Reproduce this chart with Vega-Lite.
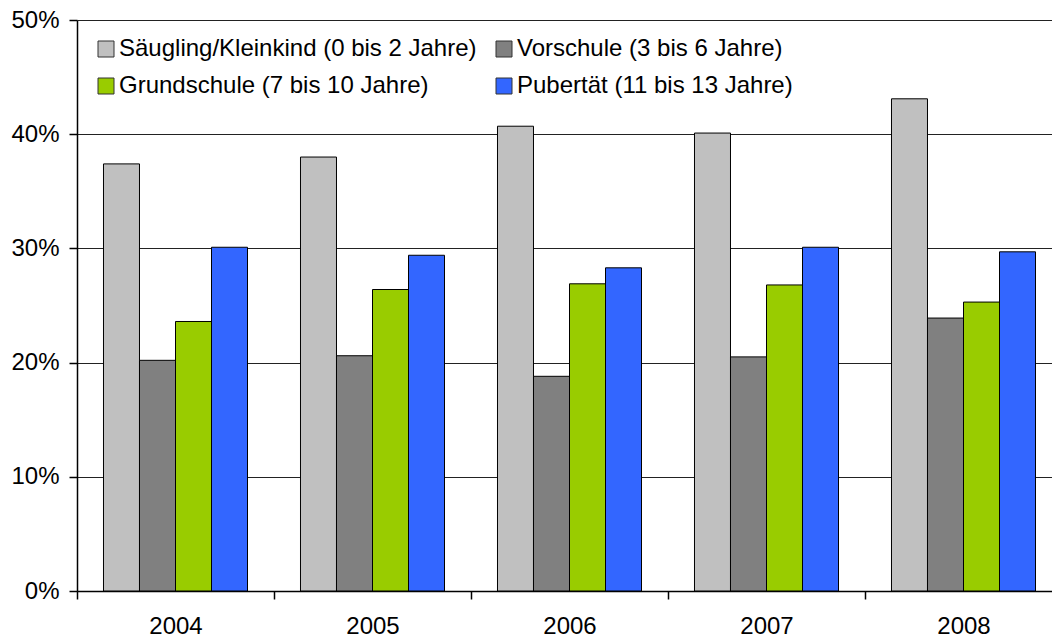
{
  "$schema": "https://vega.github.io/schema/vega-lite/v6.json",
  "width": 975,
  "height": 571,
  "autosize": {"type": "none"},
  "padding": {"left": 77, "top": 20, "right": 0, "bottom": 46},
  "background": "white",
  "config": {
    "view": {"stroke": null},
    "font": "Liberation Sans",
    "axis": {"labelFont": "Liberation Sans", "labelColor": "#000", "labelFontSize": 24}
  },
  "data": {
    "values": [
      {"Jahr": "2004", "Gruppe": "Säugling/Kleinkind (0 bis 2 Jahre)", "Anteil": 0.374},
      {"Jahr": "2004", "Gruppe": "Vorschule (3 bis 6 Jahre)", "Anteil": 0.202},
      {"Jahr": "2004", "Gruppe": "Grundschule (7 bis 10 Jahre)", "Anteil": 0.236},
      {"Jahr": "2004", "Gruppe": "Pubertät (11 bis 13 Jahre)", "Anteil": 0.301},
      {"Jahr": "2005", "Gruppe": "Säugling/Kleinkind (0 bis 2 Jahre)", "Anteil": 0.380},
      {"Jahr": "2005", "Gruppe": "Vorschule (3 bis 6 Jahre)", "Anteil": 0.206},
      {"Jahr": "2005", "Gruppe": "Grundschule (7 bis 10 Jahre)", "Anteil": 0.264},
      {"Jahr": "2005", "Gruppe": "Pubertät (11 bis 13 Jahre)", "Anteil": 0.294},
      {"Jahr": "2006", "Gruppe": "Säugling/Kleinkind (0 bis 2 Jahre)", "Anteil": 0.407},
      {"Jahr": "2006", "Gruppe": "Vorschule (3 bis 6 Jahre)", "Anteil": 0.188},
      {"Jahr": "2006", "Gruppe": "Grundschule (7 bis 10 Jahre)", "Anteil": 0.269},
      {"Jahr": "2006", "Gruppe": "Pubertät (11 bis 13 Jahre)", "Anteil": 0.283},
      {"Jahr": "2007", "Gruppe": "Säugling/Kleinkind (0 bis 2 Jahre)", "Anteil": 0.401},
      {"Jahr": "2007", "Gruppe": "Vorschule (3 bis 6 Jahre)", "Anteil": 0.205},
      {"Jahr": "2007", "Gruppe": "Grundschule (7 bis 10 Jahre)", "Anteil": 0.268},
      {"Jahr": "2007", "Gruppe": "Pubertät (11 bis 13 Jahre)", "Anteil": 0.301},
      {"Jahr": "2008", "Gruppe": "Säugling/Kleinkind (0 bis 2 Jahre)", "Anteil": 0.431},
      {"Jahr": "2008", "Gruppe": "Vorschule (3 bis 6 Jahre)", "Anteil": 0.239},
      {"Jahr": "2008", "Gruppe": "Grundschule (7 bis 10 Jahre)", "Anteil": 0.253},
      {"Jahr": "2008", "Gruppe": "Pubertät (11 bis 13 Jahre)", "Anteil": 0.297}
    ]
  },
  "mark": {"type": "bar", "stroke": "#000", "strokeWidth": 1},
  "encoding": {
    "x": {
      "field": "Jahr",
      "type": "nominal",
      "scale": {"range": [0, 985], "paddingInner": 0.269, "paddingOuter": 0.1345},
      "axis": {
        "title": null,
        "labelAngle": 0,
        "bandPosition": 0,
        "tickOffset": -26.5,
        "labelOffset": 26.5,
        "domainColor": "#000",
        "domainWidth": 1.5,
        "tickColor": "#000",
        "tickSize": 8,
        "tickWidth": 1.5,
        "labelPadding": 15,
        "grid": false
      }
    },
    "xOffset": {
      "field": "Gruppe",
      "type": "nominal",
      "sort": ["Säugling/Kleinkind (0 bis 2 Jahre)", "Vorschule (3 bis 6 Jahre)", "Grundschule (7 bis 10 Jahre)", "Pubertät (11 bis 13 Jahre)"],
      "scale": {"paddingInner": 0, "paddingOuter": 0}
    },
    "y": {
      "field": "Anteil",
      "type": "quantitative",
      "scale": {"domain": [0, 0.5], "nice": false},
      "axis": {
        "title": null,
        "format": ".0%",
        "values": [0, 0.1, 0.2, 0.3, 0.4, 0.5],
        "grid": true,
        "gridColor": "#222",
        "gridOpacity": 1,
        "gridWidth": 1,
        "domainColor": "#000",
        "domainWidth": 1.5,
        "tickColor": "#000",
        "tickSize": 8,
        "tickWidth": 1.5,
        "labelPadding": 10
      }
    },
    "color": {
      "field": "Gruppe",
      "type": "nominal",
      "sort": ["Säugling/Kleinkind (0 bis 2 Jahre)", "Vorschule (3 bis 6 Jahre)", "Grundschule (7 bis 10 Jahre)", "Pubertät (11 bis 13 Jahre)"],
      "scale": {
        "domain": ["Säugling/Kleinkind (0 bis 2 Jahre)", "Vorschule (3 bis 6 Jahre)", "Grundschule (7 bis 10 Jahre)", "Pubertät (11 bis 13 Jahre)"],
        "range": ["#C0C0C0", "#808080", "#99CC00", "#3366FF"]
      },
      "legend": {
        "title": null,
        "orient": "none",
        "legendX": 17,
        "legendY": 17,
        "columns": 2,
        "direction": "horizontal",
        "symbolType": "square",
        "symbolSize": 256,
        "symbolStrokeColor": "#333",
        "symbolStrokeWidth": 1,
        "labelFontSize": 24,
        "labelFont": "Liberation Sans",
        "labelColor": "#000",
        "labelOffset": 1,
        "columnPadding": 15,
        "rowPadding": 13,
        "labelLimit": 500
      }
    }
  }
}
